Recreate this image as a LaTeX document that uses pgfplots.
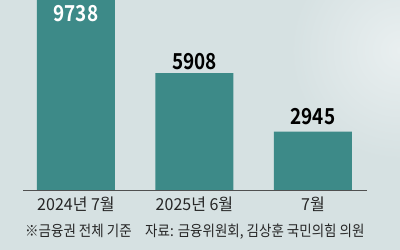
\documentclass[border=0pt]{standalone}
\usepackage{fontspec}
\usepackage{pgfplots}
\pgfplotsset{compat=1.18}
\newfontfamily\kr{Noto Sans CJK KR}[FakeStretch=0.9]
\newfontfamily\krl{Noto Sans CJK KR}[FakeStretch=0.97]
\newfontfamily\krb{Noto Sans CJK KR Bold}[FakeStretch=0.86]
\definecolor{bg}{HTML}{D6E1E2}
\definecolor{bgl}{HTML}{E9EFF0}
\definecolor{bar}{HTML}{3D8A88}
\definecolor{axc}{HTML}{505050}
\begin{document}
\begin{tikzpicture}
\fill[bg] (0,0) rectangle (400bp,250bp);
\begin{scope}
\clip (0,0) rectangle (400bp,250bp);
\shade[inner color=bgl, outer color=bg] (400bp,200bp) circle (110bp);
\end{scope}
\begin{axis}[
  at={(23bp,60bp)}, anchor=south west,
  scale only axis, width=344bp, height=190bp,
  xmin=-0.447, xmax=2.456, ymin=0, ymax=9596,
  axis x line=bottom, axis y line=none,
  axis line style={-, draw=axc, line width=0.8bp},
  xtick={0,1,2},
  xticklabels={2024년 7월, 2025년 6월, 7월},
  major tick length=0pt,
  x tick label style={font=\krl\fontsize{16.5bp}{16.5bp}\selectfont, text=black!85, anchor=base, yshift=-21bp, inner sep=0pt},
  ytick=\empty,
  ybar, bar width=78bp,
]
\addplot[fill=bar, draw=none] coordinates {(0,9738) (1,5908) (2,2945)};
\node[font=\krb\fontsize{22bp}{22bp}\selectfont, text=white] at (axis cs:0,8890) {9738};
\node[font=\krb\fontsize{22bp}{22bp}\selectfont, text=black] at (axis cs:1,6465) {5908};
\node[font=\krb\fontsize{22bp}{22bp}\selectfont, text=black] at (axis cs:2,3687) {2945};
\end{axis}
\node[anchor=base west, inner sep=0pt, font=\kr\fontsize{15bp}{15bp}\selectfont, text=black!85] at (25bp,14bp) {※금융권 전체 기준};
\node[anchor=base west, inner sep=0pt, font=\kr\fontsize{15bp}{15bp}\selectfont, text=black!85] at (145bp,14bp) {자료: 금융위원회, 김상훈 국민의힘 의원};
\end{tikzpicture}
\end{document}
